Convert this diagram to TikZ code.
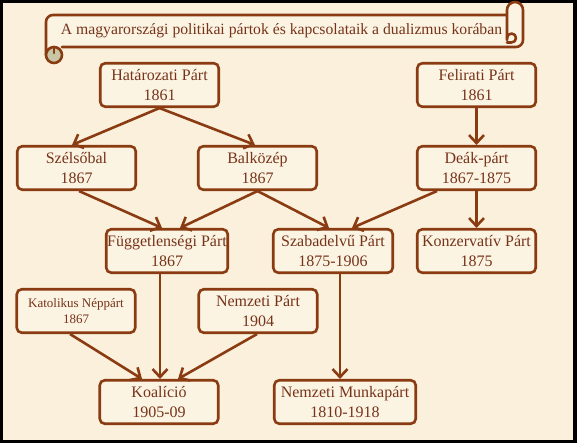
\documentclass[tikz,border=0pt]{standalone}
\usepackage{fontspec}
\setmainfont{Liberation Serif}
\usepackage{tikz}
\usetikzlibrary{positioning}
\usetikzlibrary{arrows.meta}
\definecolor{parchment}{HTML}{FAF0DC}
\definecolor{boxfill}{HTML}{FCF4E3}
\definecolor{rust}{HTML}{8A3B12}
\definecolor{rusttext}{HTML}{77331A}
\definecolor{curl}{HTML}{C9C6A6}
\tikzset{
    party node/.style={shape=rectangle,rounded corners=5pt,draw=rust,fill=boxfill,line width=2.6pt,text=rusttext,align=center,minimum width=118.5pt,minimum height=43.5pt,inner sep=1pt,font=\fontsize{16}{19.5}\selectfont},
    wide node/.style={party node,minimum width=119.5pt},
    small node/.style={party node,font=\fontsize{13}{16}\selectfont},
    link/.style={draw=rust,line width=2.6pt,-{Straight Barb[length=8pt,width=15pt]}},
    scroll/.style={draw=rust,line width=2.6pt,line join=round,line cap=round}
}
\begin{document}
\begin{tikzpicture}[x=1pt,y=1pt]
    \useasboundingbox (0,0) rectangle (577,443);
    \fill[black] (0,0) rectangle (577,443);
    \fill[parchment] (3,3) rectangle (573,440);
    % title scroll
    \fill[boxfill] (46,396) rectangle (515,428);
    \draw[scroll] (46,388) -- (46,421) arc[start angle=180,end angle=90,radius=7] -- (507,428);
    \draw[scroll,fill=boxfill] (507,403) -- (507,433) arc[start angle=180,end angle=0,radius=8] -- (523,403) arc[start angle=0,end angle=-90,radius=7] -- (62,396);
    \draw[scroll] (507,405) arc[start angle=180,end angle=-90,radius=4.5] -- (507,400.5);
    \draw[scroll,fill=curl] (54,388) circle[radius=8];
    \draw[scroll] (54,396) -- (54,390);
    \node(title)[text=rusttext,font=\fontsize{15.7}{18}\selectfont] at (281.5,412) {A magyarországi politikai pártok és kapcsolataik a dualizmus korában};
    % parties
    \node(hat)[party node] at (159.5,358) {Határozati Párt\\1861};
    \node(fel)[party node] at (476.5,358) {Felirati Párt\\1861};
    \node(szel)[party node] at (76.5,275) {Szélsőbal\\1867};
    \node(bal)[party node] at (257.5,275) {Balközép\\1867};
    \node(deak)[party node] at (476.5,275) {Deák-párt\\1867-1875};
    \node(fugg)[wide node] at (167,192) {Függetlenségi Párt\\1867};
    \node(szab)[wide node] at (333,192) {Szabadelvű Párt\\1875-1906};
    \node(konz)[party node] at (476.5,192) {Konzervatív Párt\\1875};
    \node(kat)[small node] at (76,132) {Katolikus Néppárt\\1867};
    \node(nemz)[party node] at (258,132) {Nemzeti Párt\\1904};
    \node(koal)[party node] at (159,41) {Koalíció\\1905-09};
    \node(munka)[party node,minimum width=141.5pt] at (345,41) {Nemzeti Munkapárt\\1810-1918};
    % connections
    \draw[link] (hat.south) -- ([xshift=-4.5pt]szel.north);
    \draw[link] (hat.south) -- ([xshift=-2.5pt]bal.north);
    \draw[link] (fel.south) -- (deak.north);
    \draw[link] ([xshift=2.5pt]szel.south) -- ([xshift=-5pt]fugg.north);
    \draw[link] (bal.south) -- ([xshift=13pt]fugg.north);
    \draw[link] (bal.south) -- ([xshift=-4pt]szab.north);
    \draw[link] ([xshift=-39.5pt]deak.south) -- ([xshift=19pt]szab.north);
    \draw[link] (deak.south) -- (konz.north);
    \draw[link] ([xshift=-7pt]fugg.south) -- ([xshift=1pt]koal.north);
    \draw[link] ([xshift=-6pt]kat.south) -- ([xshift=-17pt]koal.north);
    \draw[link] ([xshift=-1pt]nemz.south) -- ([xshift=19pt]koal.north);
    \draw[link] ([xshift=7pt]szab.south) -- ([xshift=-5pt]munka.north);
\end{tikzpicture}
\end{document}
